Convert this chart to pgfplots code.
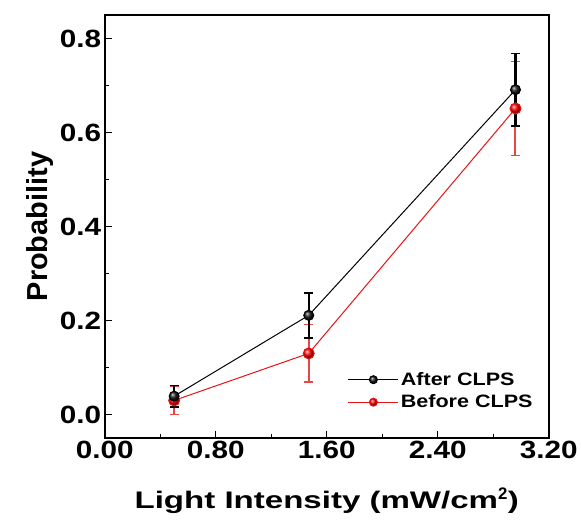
\documentclass[border=0pt]{standalone}
\usepackage{fontspec}
\setmainfont{Liberation Sans}
\newfontfamily\tickfont[FakeStretch=1.19]{Liberation Sans}
\newfontfamily\xlabfont[FakeStretch=1.38]{Liberation Sans}
\newfontfamily\legfont[FakeStretch=1.2]{Liberation Sans}
\usepackage{pgfplots}
\pgfplotsset{compat=1.18}
\definecolor{myred}{RGB}{230,20,20}
\definecolor{myredeb}{RGB}{230,70,70}
\begin{document}
\begin{tikzpicture}
\begin{axis}[
  scale only axis,
  width=445pt, height=424pt,
  xmin=0, xmax=3.2, ymin=-0.05, ymax=0.85,
  xtick={0,0.8,1.6,2.4,3.2},
  ytick={0,0.2,0.4,0.6,0.8},
  minor x tick num=1, minor y tick num=1,
  tick align=inside,
  xtick pos=bottom, ytick pos=left,
  major tick length=7pt, minor tick length=4pt,
  every tick/.style={line width=1.3pt, black},
  axis line style={line width=1.5pt},
  /pgf/number format/assume math mode=true,
  x tick label style={/pgf/number format/fixed, /pgf/number format/fixed zerofill, /pgf/number format/precision=2},
  y tick label style={/pgf/number format/fixed, /pgf/number format/fixed zerofill, /pgf/number format/precision=1},
  tick label style={font=\tickfont\fontsize{25}{30}\selectfont\bfseries},
  xlabel style={font=\xlabfont\fontsize{24}{29}\selectfont\bfseries, yshift=-22pt},
  ylabel style={font=\fontsize{29}{34}\selectfont\bfseries},
  xlabel={Light Intensity (mW/cm$^{\mathbf{2}}$)},
  ylabel={Probability},
  legend style={draw=none, fill=none, at={(0.545,0.06)}, anchor=south west, inner sep=1pt,
    font=\legfont\fontsize{18}{22}\selectfont\bfseries, row sep=4pt},
  legend cell align=left,
  reverse legend,
  legend image code/.code={\draw[mark repeat=2,mark phase=2, mark size=4pt] plot coordinates {(0pt,0pt) (25pt,0pt) (50pt,0pt)};},
]
\addplot[myred, line width=1pt, mark=ball, mark options={ball color=red}, mark size=5.5pt,
  error bars/.cd, y dir=both, y explicit,
  error bar style={myredeb, line width=2pt},
  error mark options={rotate=90, mark size=4.5pt, myredeb, line width=1.5pt}]
  coordinates {
  (0.5,0.030) +- (0,0.030)
  (1.47,0.130) +- (0,0.061)
  (2.96,0.651) +- (0,0.100)
  };
\addlegendentry{Before CLPS}
\addplot[black, line width=1pt, mark=ball, mark options={ball color=black!90}, mark size=5pt,
  error bars/.cd, y dir=both, y explicit,
  error bar style={black, line width=2.2pt},
  error mark options={rotate=90, mark size=4.5pt, black, line width=1.5pt}]
  coordinates {
  (0.5,0.039) +- (0,0.023)
  (1.47,0.211) +- (0,0.048)
  (2.96,0.691) +- (0,0.077)
  };
\addlegendentry{After CLPS}
\end{axis}
\path (current axis.south west) ++(-105pt,-85pt) rectangle ++(581pt,524pt);
\end{tikzpicture}
\end{document}
